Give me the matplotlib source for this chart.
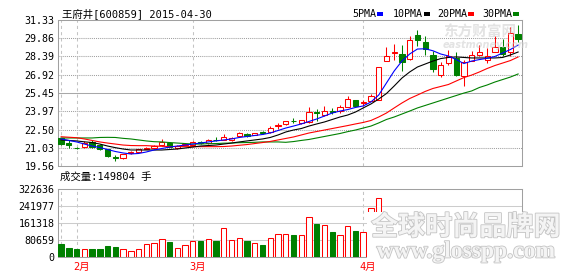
import matplotlib
matplotlib.use('Agg')
import matplotlib.pyplot as plt
import matplotlib.patheffects as pe
import matplotlib.transforms as mtrans
from matplotlib.patches import Rectangle

plt.rcParams['font.family'] = ['DejaVu Sans Mono', 'Noto Sans CJK SC']

W, H = 578, 276

# 王府井 600859, daily bars 2015-01-29 .. 2015-04-30
opens = [21.79, 21.40, 21.03, 21.07, 21.52, 21.25, 20.91, 20.25, 20.18, 20.58,
         20.71, 20.96, 20.99, 21.25, 21.44, 20.99, 21.28, 21.28, 21.47, 21.39,
         21.68, 21.66, 21.62, 21.98, 22.18, 22.06, 22.29, 22.28, 22.79, 22.91,
         23.21, 22.99, 23.07, 23.90, 23.65, 24.00, 24.00, 24.34, 24.88, 24.64,
         24.80, 24.90, 28.05, 28.70, 28.55, 28.18, 30.12, 29.57, 28.49, 26.91,
         27.90, 28.28, 26.81, 28.04, 28.47, 28.14, 28.79, 29.19, 28.79, 30.20]
highs = [21.85, 21.62, 21.10, 21.57, 21.66, 21.30, 20.95, 20.45, 20.55, 20.78,
         20.95, 21.08, 21.22, 21.71, 21.50, 21.28, 21.42, 21.56, 21.58, 21.72,
         21.90, 22.18, 21.88, 22.33, 22.22, 22.26, 22.42, 22.78, 23.05, 23.20,
         23.43, 23.28, 24.34, 24.19, 24.40, 24.26, 24.48, 25.20, 24.90, 24.88,
         25.40, 27.56, 29.15, 29.42, 29.29, 30.00, 30.56, 30.00, 28.87, 27.94,
         28.89, 28.75, 28.14, 28.81, 29.31, 29.07, 30.08, 29.80, 30.79, 30.90]
lows = [21.28, 21.01, 20.92, 21.02, 21.01, 20.88, 20.30, 19.96, 20.15, 20.52,
        20.68, 20.90, 20.95, 21.20, 21.08, 20.95, 21.22, 21.24, 21.34, 21.35,
        21.55, 21.62, 21.58, 21.95, 21.90, 22.02, 22.12, 22.24, 22.52, 22.88,
        23.03, 22.95, 23.03, 23.19, 23.60, 23.73, 23.81, 24.30, 24.40, 24.42,
        24.76, 24.86, 28.00, 28.14, 27.24, 28.14, 29.27, 28.47, 27.15, 26.71,
        27.68, 26.81, 25.99, 28.00, 28.43, 27.86, 28.75, 28.43, 28.45, 29.59]
closes = [21.31, 21.22, 20.99, 21.39, 21.12, 20.93, 20.39, 20.19, 20.50, 20.66,
          20.91, 21.00, 21.17, 21.47, 21.12, 21.20, 21.34, 21.50, 21.42, 21.66,
          21.63, 21.87, 21.82, 22.26, 21.94, 22.20, 22.25, 22.60, 22.83, 23.15,
          23.17, 23.24, 23.94, 23.84, 23.97, 23.95, 24.29, 24.96, 24.42, 24.68,
          25.20, 27.52, 28.41, 28.74, 27.94, 29.72, 29.68, 29.01, 27.38, 27.72,
          28.41, 26.91, 27.98, 28.49, 28.77, 28.39, 29.13, 28.59, 30.26, 29.81]
volumes = [61700, 42700, 38000, 36500, 38000, 38000, 52000, 47500, 38000, 28500,
           36500, 61700, 66400, 84000, 72600, 41000, 57000, 76000, 77500, 84000,
           77500, 136000, 80700, 88600, 77500, 68000, 57000, 88600, 109000, 107700,
           104000, 104000, 188000, 156600, 152000, 117000, 104000, 147000, 123000, 120000,
           231000, 278500, 196000, 178000, 185000, 199000, 172000, 158000, 176000, 141000,
           133000, 152000, 168000, 121000, 109000, 118000, 137000, 126000, 171000, 149804]

ma5 = [21.74, 21.62, 21.50, 21.33, 21.17, 21.05, 20.89, 20.73, 20.61, 20.53,
       20.57, 20.69, 20.85, 20.97, 21.09, 21.17, 21.25, 21.33, 21.41, 21.50,
       21.58, 21.66, 21.74, 21.86, 21.94, 22.02, 22.10, 22.22, 22.42, 22.62,
       22.78, 22.95, 23.15, 23.35, 23.59, 23.83, 23.99, 24.11, 24.28, 24.40,
       24.72, 25.28, 26.25, 27.22, 28.02, 28.59, 28.99, 29.01, 28.85, 28.59,
       28.43, 28.14, 27.82, 28.02, 28.14, 28.24, 28.39, 28.67, 28.95, 29.31]
ma10 = [21.66, 21.62, 21.58, 21.51, 21.45, 21.33, 21.17, 21.04, 20.93, 20.85,
        20.85, 20.85, 20.85, 20.85, 20.89, 20.93, 21.01, 21.09, 21.17, 21.21,
        21.25, 21.33, 21.41, 21.50, 21.58, 21.66, 21.74, 21.86, 22.06, 22.30,
        22.46, 22.58, 22.78, 22.95, 23.11, 23.31, 23.51, 23.67, 23.91, 24.24,
        24.56, 24.96, 25.40, 26.01, 26.65, 27.14, 27.54, 27.78, 28.02, 28.22,
        28.31, 28.35, 28.31, 28.27, 28.27, 28.27, 28.27, 28.31, 28.51, 28.75]
ma20 = [21.92, 21.88, 21.84, 21.74, 21.62, 21.50, 21.41, 21.33, 21.25, 21.21,
        21.20, 21.20, 21.17, 21.15, 21.13, 21.13, 21.12, 21.12, 21.12, 21.12,
        21.12, 21.13, 21.17, 21.23, 21.29, 21.37, 21.45, 21.54, 21.66, 21.78,
        21.90, 22.06, 22.22, 22.34, 22.46, 22.58, 22.70, 22.82, 22.95, 23.07,
        23.23, 23.51, 23.83, 24.24, 24.64, 25.00, 25.28, 25.57, 25.81, 25.97,
        26.13, 26.41, 26.69, 26.89, 27.14, 27.42, 27.66, 27.86, 28.06, 28.35]
ma30 = [21.82, 21.82, 21.82, 21.82, 21.82, 21.86, 21.87, 21.86, 21.79, 21.74,
        21.66, 21.58, 21.52, 21.50, 21.45, 21.41, 21.37, 21.33, 21.33, 21.36,
        21.37, 21.40, 21.41, 21.44, 21.45, 21.47, 21.50, 21.50, 21.50, 21.47,
        21.53, 21.62, 21.70, 21.82, 21.94, 22.06, 22.18, 22.33, 22.46, 22.62,
        22.78, 23.03, 23.31, 23.51, 23.75, 23.99, 24.24, 24.44, 24.64, 24.84,
        25.04, 25.24, 25.44, 25.61, 25.89, 26.09, 26.33, 26.53, 26.73, 26.98]

price_ticks = [19.56, 21.03, 22.50, 23.97, 25.45, 26.92, 28.39, 29.86, 31.33]
vol_ticks = [0, 80659, 161318, 241977, 322636]
dash_idx = [0, 2, 17, 39]
month_idx = [2, 17, 39]
month_labels = ['2月', '3月', '4月']
ma_names = ['5PMA', '10PMA', '20PMA', '30PMA']
ma_colors = ['#0000ff', '#000000', '#ff0000', '#008000']

RED = '#ff0000'
GREEN = '#008000'
FRAME = '#a0a0a0'


def fxy(x, y):
    # pixel position (from top-left) -> figure fraction
    return x / W, 1 - y / H


fig = plt.figure(figsize=(W / 100, H / 100), dpi=100)
ax = fig.add_axes([58 / W, 1 - 166 / H, 464 / W, 146 / H])
axv = fig.add_axes([58 / W, 1 - 257 / H, 464 / W, 68 / H])

n = len(closes)
xs = list(range(n))
up = [c >= o for o, c in zip(opens, closes)]
cols = [RED if u else GREEN for u in up]
faces = ['white' if u else GREEN for u in up]

# candles
ax.vlines(xs, lows, highs, colors=cols, lw=0.75, zorder=2)
bottoms = [min(o, c) for o, c in zip(opens, closes)]
heights = [max(abs(c - o), 0.015) for o, c in zip(opens, closes)]
ax.bar(xs, heights, bottom=bottoms, width=0.68, color=faces, edgecolor=cols,
       linewidth=0.75, zorder=3)

for ma, c in zip([ma30, ma20, ma10, ma5], ma_colors[::-1]):
    ax.plot(xs, ma, color=c, lw=0.8, zorder=4)

# volume
axv.bar(xs, volumes, width=0.7, color=faces, edgecolor=cols, linewidth=0.75, zorder=3)

for a in (ax, axv):
    a.set_xlim(-0.4, n - 0.5)
    a.set_xticks([])
    for s in a.spines.values():
        s.set_color(FRAME)
        s.set_linewidth(0.75)
    for i in dash_idx:
        a.axvline(i, color='#c4c4c4', lw=0.75, ls=(0, (3, 3)), zorder=1)
    a.tick_params(axis='y', length=0, pad=2.5, labelsize=7.2)

ax.set_ylim(price_ticks[0], price_ticks[-1])
ax.set_yticks(price_ticks)
ax.set_yticklabels([f'{v:.2f}' for v in price_ticks])
for v in price_ticks[1:-1]:
    if v == 25.45:
        ax.axhline(v, color='#a8a8a8', lw=0.75, zorder=1)
    else:
        ax.axhline(v, color='#a0a0a0', lw=0.75, ls=(0, (1, 1)), zorder=1)

axv.set_ylim(0, vol_ticks[-1])
axv.set_yticks(vol_ticks)
axv.set_yticklabels([str(v) for v in vol_ticks])
for v in vol_ticks[1:-1]:
    axv.axhline(v, color='#cccccc', lw=0.75, zorder=1)

trans = mtrans.blended_transform_factory(axv.transData, axv.transAxes)
for i, lab in zip(month_idx, month_labels):
    axv.text(i + 0.65, -0.15, lab, transform=trans, color=RED, fontsize=7.5,
             ha='center', va='center')

# title / legend
fig.text(*fxy(62, 14), '王府井[600859] 2015-04-30', fontsize=7.5, va='center')
fig.text(*fxy(60, 177), f'成交量:{volumes[-1]} 手', fontsize=7.5, va='center')

leg_x = [352, 393, 437, 482]
for x0, name, c in zip(leg_x, ma_names, ma_colors):
    fig.text(*fxy(x0, 14), name, fontsize=7.2, va='center')
    x1 = x0 + 6 * len(name) + 1
    fig.add_artist(Rectangle(fxy(x1, 15.5), 6 / W, 3 / H, transform=fig.transFigure,
                             facecolor=c, edgecolor='none'))

# eastmoney watermark
fig.text(*fxy(443, 32), '东方财富网', fontsize=10.5, fontweight='bold',
         color='#cccccc', alpha=0.55, va='center')
fig.text(*fxy(443, 45), 'eastmoney.com', fontsize=7, fontweight='bold', style='italic',
         family='DejaVu Sans', color='#cccccc', alpha=0.55, va='center')

# site watermark covering the lower right of the volume panel
fig.add_artist(Rectangle(fxy(367, 262), 203 / W, 50 / H, transform=fig.transFigure,
                         facecolor='white', edgecolor='none', zorder=10))
outline = [pe.withStroke(linewidth=1.2, foreground='#c4c4c4')]
fig.text(*fxy(466, 227), '全球时尚品牌网', fontsize=19.5, fontweight='bold',
         family=['Noto Sans CJK SC'], color='#f4f4f4', ha='center', va='center',
         path_effects=outline, zorder=11)
fig.text(*fxy(466, 252), 'www.glosspp.com', fontsize=17, fontweight='bold',
         family=['Liberation Serif'], color='#f4f4f4', ha='center', va='center',
         path_effects=outline, zorder=11)

fig.savefig('out.png', dpi=100)
